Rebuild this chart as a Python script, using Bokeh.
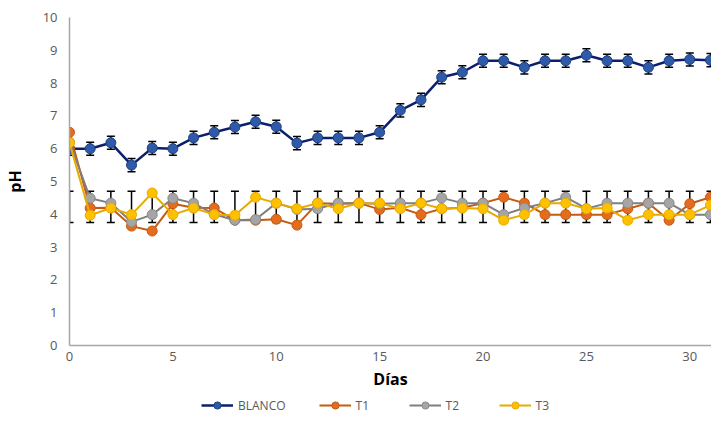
from bokeh.plotting import figure
from bokeh.layouts import column
from bokeh.models import (ColumnDataSource, Whisker, TeeHead, Legend, LegendItem,
                          Range1d, FixedTicker)
from bokeh.embed import file_html
from bokeh.resources import INLINE

# ---- data ----
days = list(range(0, 32))
blanco = [6.0, 6.0, 6.18, 5.5, 6.02, 6.0, 6.33, 6.5, 6.66, 6.82, 6.67, 6.17, 6.33, 6.33, 6.33, 6.5,
          7.17, 7.49, 8.18, 8.33, 8.68, 8.68, 8.48, 8.68, 8.68, 8.85, 8.68, 8.68, 8.48, 8.68, 8.72, 8.7]
blanco_err = [0.2] * 32
t1 = [6.5, 4.19, 4.2, 3.64, 3.49, 4.32, 4.2, 4.19, 3.82, 3.82, 3.85, 3.67, 4.34, 4.32, 4.34, 4.15,
      4.2, 3.99, 4.17, 4.2, 4.34, 4.52, 4.34, 3.99, 3.99, 3.99, 3.99, 4.17, 4.34, 3.82, 4.32, 4.52]
t2 = [6.2, 4.49, 4.34, 3.77, 3.99, 4.49, 4.34, 4.0, 3.82, 3.84, 4.34, 4.15, 4.17, 4.34, 4.34, 4.32,
      4.34, 4.34, 4.5, 4.34, 4.34, 3.99, 4.19, 4.34, 4.52, 4.17, 4.34, 4.34, 4.34, 4.34, 3.99, 3.99]
t3 = [6.18, 3.97, 4.19, 3.99, 4.65, 3.99, 4.19, 3.99, 3.97, 4.52, 4.34, 4.17, 4.34, 4.17, 4.34, 4.34,
      4.17, 4.34, 4.17, 4.19, 4.17, 3.82, 3.99, 4.34, 4.34, 4.17, 4.19, 3.82, 3.99, 3.99, 3.99, 4.28]
t_err_low = 3.75
t_err_high = 4.7
x_ticks = [0, 5, 10, 15, 20, 25, 30]
y_ticks = [0, 1, 2, 3, 4, 5, 6, 7, 8, 9, 10]
series_names = ["BLANCO", "T1", "T2", "T3"]

FONT = "Open Sans"

p = figure(width=711, height=393, x_range=Range1d(0, 31.05), y_range=Range1d(0, 10),
           output_backend="svg", toolbar_location=None,
           min_border_left=68, min_border_right=0, min_border_top=17, min_border_bottom=48)
p.outline_line_color = None
p.xgrid.visible = False
p.ygrid.visible = False

for ax in (p.xaxis[0], p.yaxis[0]):
    ax.axis_line_color = "#A6A6A6"
    ax.axis_line_width = 1.5
    ax.major_tick_line_color = None
    ax.minor_tick_line_color = None
    ax.major_tick_out = 0
    ax.major_tick_in = 0
    ax.major_label_text_font = FONT
    ax.major_label_text_font_size = "13px"
    ax.major_label_text_color = "#595959"
    ax.axis_label_text_font = FONT
    ax.axis_label_text_font_size = "16px"
    ax.axis_label_text_font_style = "bold"
    ax.axis_label_text_color = "#000000"

p.xaxis.ticker = FixedTicker(ticks=x_ticks)
p.yaxis.ticker = FixedTicker(ticks=y_ticks)
p.xaxis.axis_label = "Días"
p.yaxis.axis_label = "pH"
p.xaxis.major_label_standoff = 6
p.xaxis.axis_label_standoff = 4
p.yaxis.major_label_standoff = 12
p.yaxis.axis_label_standoff = 14

# error bars
src_b = ColumnDataSource(dict(x=days, y=blanco,
                              up=[v + e for v, e in zip(blanco, blanco_err)],
                              lo=[v - e for v, e in zip(blanco, blanco_err)]))
src_t = ColumnDataSource(dict(x=days, up=[t_err_high for _ in days], lo=[t_err_low for _ in days]))
for s in (src_t, src_b):
    w = Whisker(source=s, base="x", upper="up", lower="lo", line_color="black", line_width=1.5,
                upper_head=TeeHead(size=8, line_color="black", line_width=1.5),
                lower_head=TeeHead(size=8, line_color="black", line_width=1.5))
    p.add_layout(w)

styles = [
    ("#0B1F6E", "#2F5AA8", "#1D3F86", 2.5),
    ("#C55A11", "#E46C1E", "#C55A11", 2),
    ("#7F7F7F", "#A5A5A5", "#8A8A8A", 2),
    ("#E8A900", "#FFC000", "#E8AC00", 2),
]
values = [blanco, t1, t2, t3]
for vals, (lc, fc, oc, lw) in zip(values, styles):
    p.line(days, vals, line_color=lc, line_width=lw)
    p.scatter(days, vals, size=10, fill_color=fc, line_color=oc, line_width=1)

# legend strip below the chart (renderers kept out of view, legend only)
lg = figure(width=711, height=22, x_range=Range1d(0, 1), y_range=Range1d(100, 101),
            output_backend="svg", toolbar_location=None,
            min_border_left=0, min_border_right=0, min_border_top=0, min_border_bottom=0)
lg.axis.visible = False
lg.xgrid.visible = False
lg.ygrid.visible = False
lg.outline_line_color = None
items = []
for name, vals, (lc, fc, oc, lw) in zip(series_names, values, styles):
    l = lg.line(days, vals, line_color=lc, line_width=lw)
    s = lg.scatter(days, vals, size=10, fill_color=fc, line_color=oc, line_width=1)
    items.append(LegendItem(label=name, renderers=[l, s]))
legend = Legend(items=items, orientation="horizontal", location=(132, 1),
                label_text_font=FONT, label_text_font_size="12px", label_text_color="#595959",
                glyph_width=32, glyph_height=18, spacing=33, padding=0, margin=0,
                border_line_color=None, background_fill_alpha=0, label_standoff=5)
lg.add_layout(legend, "center")

open("out.html", "w").write(file_html(column(p, lg, spacing=0), INLINE))
